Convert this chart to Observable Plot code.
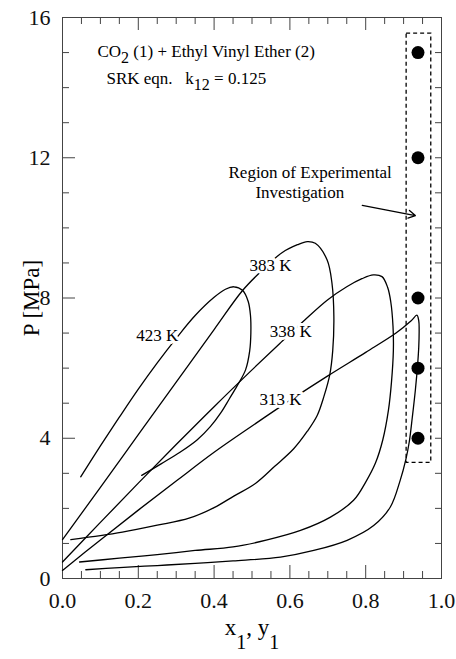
<!DOCTYPE html>
<html><head><meta charset="utf-8">
<script src="https://cdn.jsdelivr.net/npm/d3@7"></script>
<script src="https://cdn.jsdelivr.net/npm/@observablehq/plot@0.6"></script>
<style>body{margin:0;background:#fff}</style>
</head><body><div id="chart"></div>
<script>
// ---- Data ----
const xTickValues = [0, 0.2, 0.4, 0.6, 0.8, 1.0];
const yTickValues = [0, 4, 8, 12, 16];
const xMinorTicks = [0.05,0.1,0.15,0.25,0.3,0.35,0.45,0.5,0.55,0.65,0.7,0.75,0.85,0.9,0.95];
const xMajorTicks = [0.2,0.4,0.6,0.8];
const yMinorTicks = [1,2,3,5,6,7,9,10,11,13,14,15];
const yMajorTicks = [4,8,12];
const yRightTicks = [1,2,3,4,5,6,7,8,9,10,11,12,13,14,15];

const temperatures = ["313 K","338 K","383 K","423 K"];

// 313 K : bubble (up to critical point) then dew (back down)
const bub313x = [0,0.1,0.2,0.3,0.4,0.5,0.6,0.7,0.8,0.88,0.92,0.935];
const bub313p = [0.23,1.1,1.95,2.78,3.6,4.35,5.08,5.78,6.45,7.0,7.35,7.51];
const dew313x = [0.94,0.941,0.94,0.937,0.931,0.923,0.915,0.906,0.891,0.865,0.821,0.751,0.663,0.575,0.45,0.35,0.25,0.15,0.0615];
const dew313p = [7.35,7.1,6.6,6.1,5.37,4.6,3.9,3.4,2.8,2.04,1.51,1.09,0.8,0.61,0.5,0.43,0.37,0.31,0.25];

// 338 K
const bub338x = [0,0.1,0.2,0.3,0.4,0.5,0.575,0.64,0.7,0.75,0.79,0.82];
const bub338p = [0.47,1.6,2.72,3.82,4.9,5.95,6.72,7.38,7.95,8.32,8.55,8.66];
const dew338x = [0.843,0.858,0.866,0.872,0.873,0.868,0.86,0.845,0.826,0.8,0.768,0.707,0.628,0.54,0.45,0.35,0.25,0.15,0.045];
const dew338p = [8.61,8.3,7.9,7.2,6.5,5.6,4.8,3.95,3.3,2.75,2.23,1.75,1.37,1.1,0.9,0.8,0.68,0.58,0.47];

// 383 K
const bub383x = [0,0.1,0.2,0.3,0.4,0.474,0.52,0.58,0.62,0.646];
const bub383p = [1.11,2.6,4.1,5.6,7.1,8.2,8.72,9.3,9.52,9.61];
const dew383x = [0.667,0.698,0.711,0.716,0.713,0.705,0.69,0.672,0.646,0.61,0.56,0.509,0.452,0.4,0.334,0.25,0.158,0.1,0.022];
const dew383p = [9.56,9.09,8.42,7.47,6.5,5.8,5.2,4.65,4.2,3.7,3.2,2.71,2.35,2.02,1.72,1.52,1.32,1.22,1.11];

// 423 K
const bub423x = [0.048,0.1,0.15,0.2,0.25,0.3,0.35,0.4,0.43,0.452];
const bub423p = [2.9,3.78,4.6,5.4,6.15,6.85,7.5,8.02,8.25,8.32];
const dew423x = [0.475,0.49,0.496,0.497,0.494,0.483,0.461,0.44,0.418,0.39,0.355,0.31,0.26,0.209];
const dew423p = [8.22,7.9,7.5,7.0,6.5,5.95,5.5,5.12,4.73,4.33,3.95,3.6,3.27,2.94];

// experimental points
const expX = [0.938,0.938,0.938,0.938,0.938];
const expP = [4,6,8,12,15];

// region box and arrow
const boxX = [0.908, 0.973];
const boxP = [3.3, 15.54];
const arrowX = [0.791, 0.931];
const arrowP = [10.64, 10.35];

// labels
const labelText = ["423 K","383 K","338 K","313 K"];
const labelX = [0.25,0.549,0.602,0.575];
const labelP = [6.93,8.93,7.03,5.10];

const noteText = ["CO2 (1) + Ethyl Vinyl Ether (2)", "SRK eqn.\u00a0\u00a0 k12 = 0.125", "Region of Experimental", "Investigation"];
const noteX = [0.0923, 0.116, 0.438, 0.509];
const noteP = [15.02, 14.25, 11.57, 11.02];

// ---- build tables ----
const curveSets = [
  ["313 K", bub313x, bub313p, dew313x, dew313p],
  ["338 K", bub338x, bub338p, dew338x, dew338p],
  ["383 K", bub383x, bub383p, dew383x, dew383p],
  ["423 K", bub423x, bub423p, dew423x, dew423p]
];
const curveRows = [];
for (const [T, bx, bp, dx, dp] of curveSets) {
  bx.forEach((x, i) => curveRows.push({T, x, P: bp[i]}));
  dx.forEach((x, i) => curveRows.push({T, x, P: dp[i]}));
}
const points = expX.map((x, i) => ({x, P: expP[i]}));
const labels = labelText.map((t, i) => ({t, x: labelX[i], P: labelP[i]}));
const notes = noteText.map((t, i) => ({t, x: noteX[i], P: noteP[i]}));

const pxX = 1 / 379, pxY = 16 / 561;
const axisColor = "#444";

const chart = Plot.plot({
  width: 456, height: 659,
  marginLeft: 62, marginRight: 15, marginTop: 17, marginBottom: 81,
  style: {fontFamily: "'Liberation Serif', 'Times New Roman', serif", fontSize: "22px", color: "#111", background: "#fff"},
  x: {domain: [0, 1], ticks: xTickValues, tickSize: 0, tickPadding: 14, tickFormat: d => d.toFixed(1), label: null},
  y: {domain: [0, 16], ticks: yTickValues, tickSize: 0, tickPadding: 12, label: null},
  marks: [
    Plot.frame({stroke: axisColor}),
    Plot.ruleX(xMinorTicks, {x: d => d, y1: 0, y2: 7 * pxY, stroke: axisColor}),
    Plot.ruleX(xMajorTicks, {x: d => d, y1: 0, y2: 13 * pxY, stroke: axisColor}),
    Plot.ruleX(xMinorTicks, {x: d => d, y1: 16, y2: 16 - 7 * pxY, stroke: axisColor}),
    Plot.ruleX(xMajorTicks, {x: d => d, y1: 16, y2: 16 - 13 * pxY, stroke: axisColor}),
    Plot.ruleY(yMinorTicks, {y: d => d, x1: 0, x2: 7 * pxX, stroke: axisColor}),
    Plot.ruleY(yMajorTicks, {y: d => d, x1: 0, x2: 13 * pxX, stroke: axisColor}),
    Plot.ruleY(yRightTicks, {y: d => d, x1: 1 - 6 * pxX, x2: 1, stroke: axisColor}),
    Plot.line(curveRows, {x: "x", y: "P", z: "T", curve: "catmull-rom", stroke: "#000", strokeWidth: 1.3}),
    Plot.rect([0], {x1: () => boxX[0], x2: () => boxX[1], y1: () => boxP[0], y2: () => boxP[1], fill: "none", stroke: "#000", strokeWidth: 1.3, strokeDasharray: "4,3"}),
    Plot.dot(points, {x: "x", y: "P", r: 6.5, fill: "#000", stroke: "none"}),
    Plot.arrow([0], {x1: () => arrowX[0], y1: () => arrowP[0], x2: () => arrowX[1], y2: () => arrowP[1], stroke: "#000", strokeWidth: 1.3, headLength: 9}),
    Plot.text(labels, {x: "x", y: "P", text: "t", fontSize: 17, fill: "#000", stroke: "#fff", strokeWidth: 6}),
    Plot.text(notes, {x: "x", y: "P", text: "t", fontSize: 17, textAnchor: "start", fill: "#000"}),
    Plot.text(["x1, y1"], {frameAnchor: "bottom", text: d => d, dy: 56, fontSize: 23, fill: "#000"}),
    Plot.text(["P [MPa]"], {frameAnchor: "left", textAnchor: "middle", text: d => d, rotate: -90, dx: -31, fontSize: 23, fill: "#000"})
  ]
});

function subscriptify(svg, full, parts, shift, subSize) {
  for (const t of svg.querySelectorAll("text")) {
    if (t.textContent === full && t.children.length === 0) {
      t.textContent = "";
      t.style.whiteSpace = "pre";
      let prevSub = false;
      for (const [s, sub] of parts) {
        const ts = document.createElementNS("http://www.w3.org/2000/svg", "tspan");
        ts.textContent = s;
        if (sub) { ts.setAttribute("dy", shift); ts.setAttribute("font-size", subSize); }
        else if (prevSub) ts.setAttribute("dy", -shift);
        t.appendChild(ts);
        prevSub = sub;
      }
    }
  }
}
subscriptify(chart, noteText[0], [["CO", false], ["2", true], [" (1) + Ethyl Vinyl Ether (2)", false]], 6, 16);
subscriptify(chart, noteText[1], [["SRK eqn.\u00a0\u00a0 k", false], ["12", true], [" = 0.125", false]], 6, 16);
subscriptify(chart, "x1, y1", [["x", false], ["1", true], [", y", false], ["1", true]], 14, 20);

document.getElementById("chart").appendChild(chart);
</script>
</body></html>
